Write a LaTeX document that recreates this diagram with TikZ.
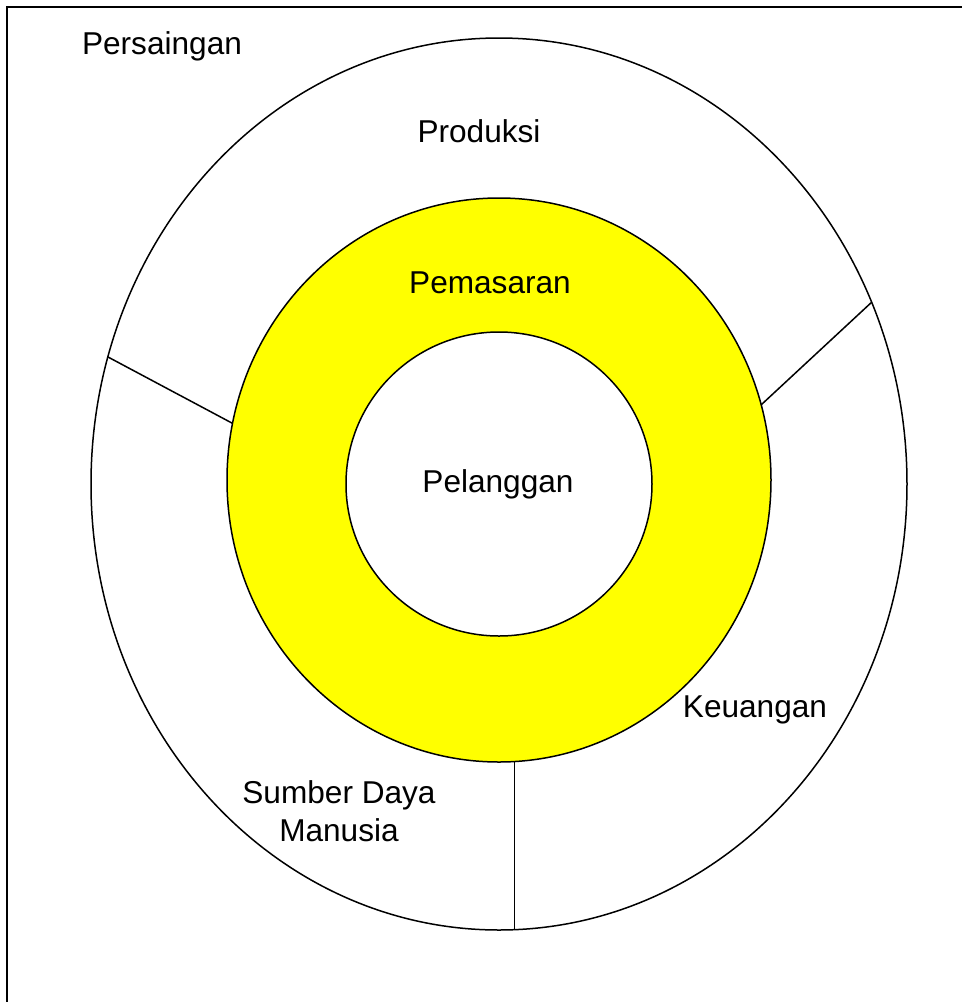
\documentclass[tikz,border=0pt]{standalone}
\usepackage{fontspec}
\setmainfont{Liberation Sans}
\usetikzlibrary{shapes.geometric}
\definecolor{mktyellow}{RGB}{255,255,0}
\begin{document}
\begin{tikzpicture}[x=0.5pt,y=-0.5pt,
  ring/.style={ellipse,draw=black,line width=0.75pt,inner sep=0pt,outer sep=0pt},
  lbl/.style={font=\fontsize{15.8}{19}\selectfont,align=center,inner sep=0pt},
  divider/.style={draw=black,line width=0.75pt}]
  \useasboundingbox (0,0) rectangle (962,1002);
  % frame (top and left edges)
  \draw[line width=1pt] (7,1010) -- (7,7) -- (970,7);
  % rings
  \node[ring,minimum width=408pt,minimum height=446pt] (outer) at (499,484) {};
  \node[ring,fill=mktyellow,minimum width=272pt,minimum height=282pt] (mkt) at (499,480) {};
  \node[ring,fill=white,minimum width=153pt,minimum height=152pt] (cust) at (499,484) {};
  % sector dividers
  \draw[divider] (outer.162.5) -- (mkt.168.2);
  \draw[divider] (outer.26.5) -- (mkt.16.1);
  \draw[divider] (outer.-88.07) -- (outer.-88.07 |- mkt.south);
  % labels
  \node[lbl] (persaingan) at (162,46) {Persaingan};
  \node[lbl] (produksi) at (479,131) {Produksi};
  \node[lbl] (pemasaran) at (490,283) {Pemasaran};
  \node[lbl] (pelanggan) at (498,484) {Pelanggan};
  \node[lbl] (keuangan) at (755,710) {Keuangan};
  \node[lbl] (sdm) at (339,811) {Sumber Daya\\Manusia};
\end{tikzpicture}
\end{document}
